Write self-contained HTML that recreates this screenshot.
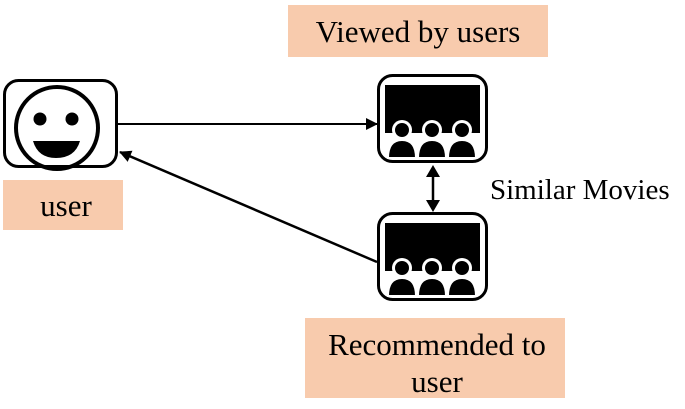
<!DOCTYPE html>
<html><head><style>body{margin:0;background:#fff}</style></head><body>
<svg width="685" height="404" xmlns="http://www.w3.org/2000/svg" font-family="Liberation Serif, serif">
<defs>
<marker id="a" markerWidth="12" markerHeight="12" refX="11" refY="6" orient="auto" markerUnits="userSpaceOnUse"><path d="M0,0 L12,6 L0,12 z" fill="#000"/></marker>
<g id="mv">
<rect x="1.5" y="1.5" width="108" height="86" rx="14" fill="#fff" stroke="#000" stroke-width="3"/>
<rect x="8" y="11" width="95" height="48" fill="#000"/>
<g id="p"><circle cx="25" cy="56" r="10" fill="#fff"/><circle cx="25" cy="56" r="7" fill="#000"/><path d="M11,84 Q11,66 25,66 Q39,66 39,84 z" fill="#000" stroke="#fff" stroke-width="2"/></g>
<use href="#p" x="30"/><use href="#p" x="60"/>
</g>
</defs>
<rect x="288" y="5" width="260" height="52" fill="#f8cbad"/>
<text x="418" y="42" font-size="31" text-anchor="middle">Viewed by users</text>
<rect x="3" y="180" width="120" height="50" fill="#f8cbad"/>
<text x="66" y="216" font-size="31" text-anchor="middle">user</text>
<rect x="305" y="318" width="260" height="80" fill="#f8cbad"/>
<text x="437" y="355" font-size="31" text-anchor="middle">Recommended to</text>
<text x="437" y="392" font-size="31" text-anchor="middle">user</text>
<text x="490" y="199" font-size="29">Similar Movies</text>
<rect x="4.5" y="80.5" width="112" height="86" rx="14" fill="#fff" stroke="#000" stroke-width="3"/>
<circle cx="57" cy="128" r="41" fill="none" stroke="#000" stroke-width="4"/>
<circle cx="40" cy="119" r="6.5"/><circle cx="72" cy="119" r="6.5"/>
<path d="M33,141 L80,141 Q75,158 56,158 Q38,158 33,141 z"/>
<use href="#mv" x="377" y="74"/>
<use href="#mv" x="377" y="212"/>
<line x1="118" y1="124" x2="377" y2="124" stroke="#000" stroke-width="2" marker-end="url(#a)"/>
<line x1="377" y1="262" x2="120" y2="152" stroke="#000" stroke-width="2.5" marker-end="url(#a)"/>
<line x1="433" y1="175" x2="433" y2="202" stroke="#000" stroke-width="2.5"/>
<path d="M426,177 L433,165 L440,177 z M426,200 L433,212 L440,200 z"/>
</svg>
</body></html>
